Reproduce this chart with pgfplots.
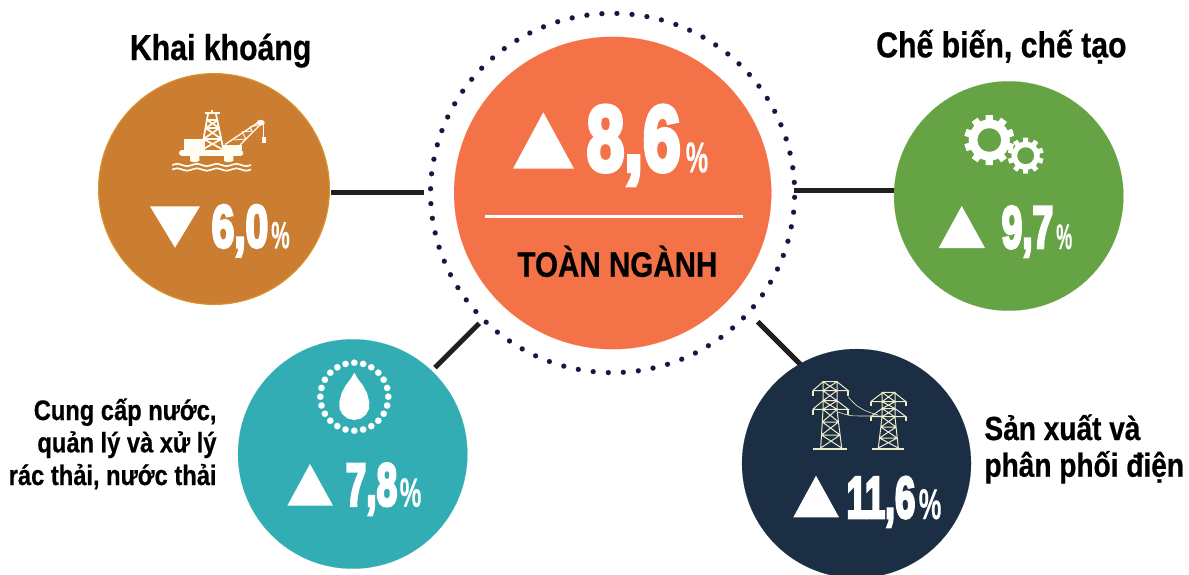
\documentclass[border=0pt]{standalone}
\usepackage{pgfplots}
\usepackage{graphicx}
\usepackage{fontspec}
\pgfplotsset{compat=1.18}
\setmainfont{Liberation Sans}[FakeStretch=0.84, BoldFeatures={FakeBold=0.6}]
\newfontfamily\numfont{Liberation Sans}[BoldFeatures={FakeBold=5.5}]
\newfontfamily\pctfont{Liberation Sans}[BoldFeatures={FakeBold=0.3}]
\definecolor{cbrown}{HTML}{CB7E32}
\definecolor{cbrownb}{HTML}{D8922C}
\definecolor{corange}{HTML}{F47248}
\definecolor{cgreen}{HTML}{66A345}
\definecolor{cteal}{HTML}{33ADB4}
\definecolor{cnavy}{HTML}{1B2E43}
\definecolor{cdots}{HTML}{1A1440}
\definecolor{cline}{HTML}{231F20}
\definecolor{ccream}{HTML}{FFFDF2}
\definecolor{ctower}{HTML}{F0EBC8}
% big figures squeezed to the size
\newcommand{\bignum}[5]{\node[anchor=base west,inner sep=0pt,text=white] at (axis cs:#1,#2) {\resizebox{#3pt}{#4pt}{\numfont\bfseries #5}};}
\newcommand{\bigpct}[4]{\node[anchor=base west,inner sep=0pt,text=white] at (axis cs:#1,#2) {\resizebox{#3pt}{#4pt}{\pctfont\bfseries\%}};}
\begin{document}
\begin{tikzpicture}
\useasboundingbox (0,0) rectangle (1189pt,574pt);
\clip (0,0) rectangle (1189pt,574pt);
\begin{axis}[
    at={(594.5pt,287pt)}, anchor=center,
    width=1189pt, height=574pt, scale only axis,
    xmin=0, xmax=1189, ymin=0, ymax=574, y dir=reverse,
    hide axis, clip=false, clip mode=individual, unbounded coords=jump,
    disc/.style={only marks, mark=*, mark options={draw=#1, fill=#1, line width=0.1pt}},
    link/.style={no markers, color=cline, line width=5pt},
    tri/.style={fill=white, draw=none, no markers},
    solid cream/.style={fill=ccream, draw=none, no markers},
    rig/.style={no markers, color=ccream, line width=#1},
    tower/.style={no markers, color=ctower, line width=#1},
    gear/.style={no markers, color=white, line width=#1},
]
% connectors
\addplot[link] coordinates {(331,192.7)(424,192.7)};
\addplot[link] coordinates {(794,190)(895,190)};
\addplot[link] coordinates {(479.3,323.3)(435,367.7)};
\addplot[link] coordinates {(757.7,321.7)(801.7,365.7)};

% dotted ring round the centre
\addplot[disc=cdots, mark size=2.5pt] coordinates {
(616.9,13.4)(632.0,14.4)(646.9,16.6)(661.4,19.9)(675.8,24.5)(689.6,30.2)(703.0,37.1)(715.7,45.0)(727.8,53.9)(739.0,63.8)
(749.4,74.5)(758.9,86.1)(767.3,98.4)(774.7,111.3)(780.9,124.8)(786.1,138.8)(790.0,153.1)(792.8,167.7)(794.3,182.4)
(794.6,197.3)(793.6,212.2)(791.3,226.8)(787.9,241.2)(783.3,255.4)(777.5,269.0)(770.5,282.2)(762.5,294.8)(753.5,306.7)(743.5,317.8)
(732.6,328.0)(720.9,337.4)(708.4,345.7)(695.4,353.0)(681.7,359.2)(667.5,364.3)(653.0,368.1)(638.3,370.8)(623.3,372.3)
(608.3,372.6)(593.2,371.6)(578.3,369.4)(563.8,366.1)(549.4,361.5)(535.6,355.8)(522.2,348.9)(509.5,341.0)(497.4,332.1)(486.2,322.2)
(475.8,311.5)(466.3,299.9)(457.9,287.6)(450.5,274.7)(444.3,261.2)(439.1,247.2)(435.2,232.9)(432.4,218.3)(430.9,203.6)
(430.6,188.7)(431.6,173.8)(433.9,159.2)(437.3,144.8)(441.9,130.6)(447.7,117.0)(454.7,103.8)(462.7,91.2)(471.7,79.3)(481.7,68.2)
(492.6,58.0)(504.3,48.6)(516.8,40.3)(529.8,33.0)(543.5,26.8)(557.7,21.7)(572.2,17.9)(586.9,15.2)(601.9,13.7)
};

% circles
\addplot[only marks, mark=*, mark size=115.4pt, mark options={draw=cbrownb, line width=1.2pt, fill=cbrown}] coordinates {(214,189)};
\addplot[only marks, mark=*, mark size=156.2pt, mark options={draw=corange, fill=corange, line width=0.1pt, xscale=1.0154}] coordinates {(612.7,193)};
\addplot[disc=cgreen, mark size=114.7pt] coordinates {(1008.7,196)};
\addplot[disc=cteal, mark size=114.7pt] coordinates {(352.7,454)};
\addplot[disc=cnavy, mark size=114.5pt] coordinates {(856.5,463.5)};

% divider in the centre circle
\addplot[no markers, color=white, line width=2.5pt] coordinates {(485,216.3)(743,216.3)};

% triangles
\addplot[tri] coordinates {(543.3,112.3)(574,168.7)(513,168.7)} -- cycle;
\addplot[tri] coordinates {(150,206.3)(200,206.3)(175,247.7)} -- cycle;
\addplot[tri] coordinates {(961.7,206)(985,248)(938.7,248)} -- cycle;
\addplot[tri] coordinates {(310,464)(333,505.7)(287.3,505.7)} -- cycle;
\addplot[tri] coordinates {(816,475.7)(839,517.3)(793.3,517.3)} -- cycle;

% gears
\addplot[disc=white, mark size=20.5pt] coordinates {(989.3,140)};
\addplot[gear=7.3pt] coordinates {
(989.3,115)(989.3,165)(0,nan)
(1004,119.8)(974.6,160.2)(0,nan)
(1013.1,132.3)(965.5,147.7)(0,nan)
(1013.1,147.7)(965.5,132.3)(0,nan)
(1004,160.2)(974.6,119.8)};
\addplot[disc=cgreen, mark size=11.7pt] coordinates {(989.3,140)};
\addplot[disc=white, mark size=14pt] coordinates {(1025.7,155.7)};
\addplot[gear=5pt] coordinates {
(1025.7,137.7)(1025.7,173.7)(0,nan)
(1036.3,141.1)(1015.1,170.3)(0,nan)
(1042.8,150.1)(1008.6,161.3)(0,nan)
(1042.8,161.3)(1008.6,150.1)(0,nan)
(1036.3,170.3)(1015.1,141.1)};
\addplot[disc=cgreen, mark size=8.3pt] coordinates {(1025.7,155.7)};

% water drop and its ring of dots
\addplot[disc=white, mark size=3.2pt] coordinates {
(354.3,362.7)(363.1,363.9)(371.3,367.3)(378.3,372.7)(383.7,379.7)(387.1,387.9)(388.3,396.7)
(387.1,405.5)(383.7,413.7)(378.3,420.7)(371.3,426.1)(363.1,429.5)(354.3,430.7)
(345.5,429.5)(337.3,426.1)(330.3,420.7)(324.9,413.7)(321.5,405.5)(320.3,396.7)
(321.5,387.9)(324.9,379.7)(330.3,372.7)(337.3,367.3)(345.5,363.9)};
\addplot[fill=white, draw=none, no markers] coordinates {
(354.3,372.7)(358,379)(363,385.5)(367,393)(369.3,402)(369,409)(366,414.5)(361,418.5)(354.3,420)
(347.6,418.5)(342.6,414.5)(339.6,409)(339.3,402)(341.6,393)(345.6,385.5)(350.6,379)} -- cycle;

% oil rig
\addplot[rig=6pt, line cap=round] coordinates {(182,153)(240.3,153)};
\addplot[solid cream] coordinates {(184,139.3)(205,139.3)(205,150)(184,150)} -- cycle;
\addplot[solid cream] coordinates {(222,145)(241.7,145)(241.7,150)(222,150)} -- cycle;
\addplot[solid cream] coordinates {(190,156)(199.3,156)(199.3,161)(196,162)(193,162)(190,161)} -- cycle;
\addplot[solid cream] coordinates {(224,156)(233.3,156)(233.3,161)(230,162)(227,162)(224,161)} -- cycle;
\addplot[rig=1.7pt] coordinates {
(201.5,150)(208,114)(0,nan)(223.5,150)(216,114)(0,nan)
(203.5,139)(221.5,139)(0,nan)(205.5,128)(219.5,128)(0,nan)(206.9,120)(218.1,120)(0,nan)
(203.5,139)(219.5,128)(0,nan)(221.5,139)(205.5,128)(0,nan)
(205.5,128)(218.1,120)(0,nan)(219.5,128)(206.9,120)(0,nan)
(201.5,150)(221.5,139)(0,nan)(223.5,150)(203.5,139)};
\addplot[rig=2.6pt] coordinates {(205,113)(220,113)};
\addplot[rig=1.6pt] coordinates {(212,113)(212,110)};
\addplot[rig=1.3pt] coordinates {(225,144.5)(258,122.5)(0,nan)(240,145)(261,124)};
\addplot[rig=0.9pt] coordinates {(234,140)(246,139)(242,132)(252,131)(250,127)(258,125)};
\addplot[only marks, mark=*, mark size=2.8pt, mark options={draw=ccream, fill=ccream, line width=0.1pt, xscale=1.4}] coordinates {(260.7,122.7)};
\addplot[rig=1pt] coordinates {(263.5,124)(263.5,137)};
\addplot[solid cream] coordinates {(261.7,136.7)(265.7,136.7)(265.7,143.3)(261.7,143.3)} -- cycle;
\addplot[rig=1.7pt, smooth] coordinates {(172.3,165)(177.2,163.8)(182.2,165)(187.1,166.2)(192,165)(197,163.8)(201.9,165)(206.8,166.2)(211.8,165)(216.7,163.8)(221.6,165)(226.5,166.2)(231.5,165)(236.4,163.8)(241.3,165)(246.2,166.2)(251,165)};
\addplot[rig=1.7pt, smooth] coordinates {(172.3,169.5)(177.2,168.3)(182.2,169.5)(187.1,170.7)(192,169.5)(197,168.3)(201.9,169.5)(206.8,170.7)(211.8,169.5)(216.7,168.3)(221.6,169.5)(226.5,170.7)(231.5,169.5)(236.4,168.3)(241.3,169.5)(246.2,170.7)(251,169.5)};

% pylons
\addplot[tower=1pt] coordinates {
(820.7,448)(823,410)(823,381.7)(837,381.7)(837,410)(841.7,448)(0,nan)
(812.7,390.7)(848.3,390.7)(837,381.7)(0,nan)(812.7,390.7)(823,381.7)(0,nan)
(812.7,409.3)(848.3,409.3)(837,400.7)(823,400.7)(812.7,409.3)(0,nan)
(823,381.7)(837,390.7)(0,nan)(837,381.7)(823,390.7)(0,nan)
(823,390.7)(837,400.7)(0,nan)(837,390.7)(823,400.7)(0,nan)
(823,400.7)(837,409.3)(0,nan)(837,400.7)(823,409.3)(0,nan)
(823,409.3)(838.5,422)(0,nan)(837,409.3)(822.3,422)(0,nan)
(822.3,422)(840.1,435)(0,nan)(838.5,422)(821.5,435)(0,nan)
(821.5,435)(841.7,448)(0,nan)(840.1,435)(820.7,448)(0,nan)
(822.3,422)(838.5,422)(0,nan)(821.5,435)(840.1,435)};
\addplot[tower=1pt] coordinates {
(878.3,448)(882,417)(882,392.3)(895,392.3)(895,417)(898.3,448)(0,nan)
(870.7,401.7)(906,401.7)(895,393)(0,nan)(870.7,401.7)(882,393)(0,nan)
(870.7,416.7)(906,416.7)(895,408.5)(882,408.5)(870.7,416.7)(0,nan)
(882,392.3)(895,401.7)(0,nan)(895,392.3)(882,401.7)(0,nan)
(882,401.7)(895,408.5)(0,nan)(895,401.7)(882,408.5)(0,nan)
(882,408.5)(895,417)(0,nan)(895,408.5)(882,417)(0,nan)
(882,417)(896.1,427)(0,nan)(895,417)(880.8,427)(0,nan)
(880.8,427)(897.2,438)(0,nan)(896.1,427)(879.5,438)(0,nan)
(879.5,438)(898.3,448)(0,nan)(897.2,438)(878.3,448)(0,nan)
(880.8,427)(896.1,427)(0,nan)(879.5,438)(897.2,438)};
\addplot[tower=1.9pt] coordinates {
(813.3,449)(847.3,449)(0,nan)(872.3,449)(904,449)(0,nan)
(812.7,391)(812.7,396)(0,nan)(848.3,391)(848.3,396)(0,nan)
(812.7,409.5)(812.7,415)(0,nan)(848.3,409.5)(848.3,415)(0,nan)
(870.7,402)(870.7,405.5)(0,nan)(906,402)(906,405.5)(0,nan)
(870.7,417)(870.7,421)(0,nan)(906,417)(906,421)};
\addplot[tower=0.6pt, smooth] coordinates {(848.3,397)(856,405)(866,411)(878,415)};
\addplot[tower=0.6pt, smooth] coordinates {(838,412)(850,415.5)(865,416)(884,416)};

% figures
\bignum{586.5}{170.5}{94}{64.5}{8,6}
\bigpct{685.5}{172.3}{22.5}{30}
\bignum{211.5}{247}{56.5}{41.7}{6,0}
\bigpct{271}{248.3}{18.5}{26.5}
\bignum{1001.5}{247.7}{51.5}{41.2}{9,7}
\bigpct{1056}{249}{16}{25}
\bignum{345.5}{505.4}{51.5}{41.8}{7,8}
\bigpct{399.5}{506.7}{21.7}{28.5}
\bignum{846.5}{517.7}{68.5}{40.7}{11,6}
\bigpct{918.5}{519}{22.7}{30}

% labels
\node[anchor=base west, inner sep=0pt, font=\fontsize{36}{40}\selectfont\bfseries] at (axis cs:129.7,60) {Khai khoáng};
\node[anchor=base west, inner sep=0pt, font=\fontsize{36}{40}\selectfont\bfseries] at (axis cs:876,57.3) {Chế biến, chế tạo};
\node[anchor=base west, inner sep=0pt, font=\fontsize{35.2}{40}\selectfont\bfseries] at (axis cs:517.3,276.7) {TOÀN NGÀNH};
\node[anchor=base east, inner sep=0pt, font=\fontsize{28.2}{30}\selectfont\bfseries] at (axis cs:216.7,420) {Cung cấp nước,};
\node[anchor=base east, inner sep=0pt, font=\fontsize{28.2}{30}\selectfont\bfseries] at (axis cs:216.7,452.3) {quản lý và xử lý};
\node[anchor=base east, inner sep=0pt, font=\fontsize{28.2}{30}\selectfont\bfseries] at (axis cs:216.7,485) {rác thải, nước thải};
\node[anchor=base west, inner sep=0pt, font=\fontsize{33.4}{36}\selectfont\bfseries] at (axis cs:984.3,440) {Sản xuất và};
\node[anchor=base west, inner sep=0pt, font=\fontsize{33.4}{36}\selectfont\bfseries] at (axis cs:984.3,476.7) {phân phối điện};
\end{axis}
\end{tikzpicture}
\end{document}
